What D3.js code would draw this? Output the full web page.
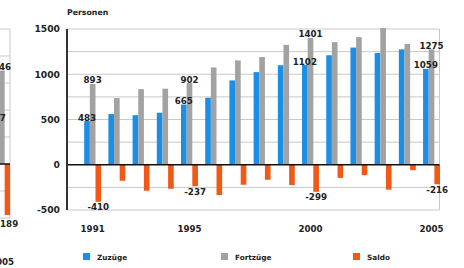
<!DOCTYPE html>
<html><head><meta charset="utf-8">
<script src="https://cdn.jsdelivr.net/npm/d3@7"></script>
<style>
html,body{margin:0;padding:0;background:#fff;}
svg{display:block;}
text{font-family:"DejaVu Sans",sans-serif;font-weight:bold;fill:#222;}
</style></head>
<body><svg id="c" width="464" height="268"></svg>
<script>
// ---- data (main chart) ----
const years = ["1991","1992","1993","1994","1995","1996","1997","1998","1999","2000","2001","2002","2003","2004","2005"];
const zuzuege   = [483, 560, 548, 575, 665, 740, 932, 1024, 1100, 1102, 1210, 1295, 1235, 1275, 1059];
const fortzuege = [893, 737, 835, 840, 902, 1075, 1153, 1190, 1325, 1401, 1355, 1410, 1510, 1335, 1275];
const saldo     = [-410, -177, -287, -265, -237, -335, -221, -166, -225, -299, -145, -115, -275, -60, -216];
const labelledYears = ["1991","1995","2000","2005"];
const yTicks = [-500, 0, 500, 1000, 1500];
const seriesNames = ["Zuzüge","Fortzüge","Saldo"];
const unitLabel = "Personen";
// ---- data (neighbouring chart, cut at left edge) ----
const leftYears = ["2005"];
const leftZuzuege = [157];
const leftFortzuege = [346];
const leftSaldo = [-189];

const colors = ["#1b8fe6", "#a2a2a2", "#f05a16"];
const svg = d3.select("#c");

// ===== left partial chart =====
(function(){
  const L = 0, R = 10;
  const y = d3.scaleLinear().domain([-200, 500]).range([218, 29]);
  const x0 = d3.scaleBand().domain(leftYears).range([-6, 10]).padding(0);
  const x1 = d3.scaleBand().domain([0,1,2]).range([0, x0.bandwidth()]);
  const g = svg.append("g");
  d3.range(-100, 501, 100).filter(v => v !== 0).forEach(v => {
    g.append("line").attr("x1", L).attr("x2", R).attr("y1", y(v)).attr("y2", y(v))
      .attr("stroke", "#c8c8c8").attr("stroke-width", 1);
  });
  g.append("line").attr("x1", L).attr("x2", R).attr("y1", y(-200)).attr("y2", y(-200)).attr("stroke", "#c8c8c8");
  g.append("line").attr("x1", R).attr("x2", R).attr("y1", y(500)).attr("y2", y(-200)).attr("stroke", "#c8c8c8");
  const series = [leftZuzuege, leftFortzuege, leftSaldo];
  series.forEach((arr, si) => {
    g.selectAll(null).data(leftYears).enter().append("rect")
      .attr("x", d => x0(d) + x1(si))
      .attr("width", x1.bandwidth())
      .attr("y", (d, i) => y(Math.max(0, arr[i])))
      .attr("height", (d, i) => Math.abs(y(arr[i]) - y(0)))
      .attr("fill", colors[si]);
  });
  g.append("line").attr("x1", L).attr("x2", R).attr("y1", y(0)).attr("y2", y(0)).attr("stroke", "#111").attr("stroke-width", 1.5);
  series.forEach((arr, si) => {
    leftYears.forEach((yr, i) => {
      const v = arr[i];
      g.append("text").attr("x", x0(yr) + x1(si) + x1.bandwidth()/2)
        .attr("y", v >= 0 ? y(v) - 0.5 : y(v) + 12)
        .attr("text-anchor", "middle").attr("font-size", 8.7).text(String(v));
    });
  });
  leftYears.forEach(yr => {
    g.append("text").attr("x", x0(yr) + x0.bandwidth()/2).attr("y", 265)
      .attr("text-anchor", "middle").attr("font-size", 8.7).text(yr);
  });
})();

// ===== main chart =====
const plotL = 67, plotR = 439.5, plotT = 29, plotB = 210;
const y = d3.scaleLinear().domain([-500, 1500]).range([plotB, plotT]);
const x0 = d3.scaleBand().domain(years).range([plotL, 440])
  .paddingInner(0.3).paddingOuter(0.355).align(1);
const x1 = d3.scaleBand().domain([0,1,2]).range([0, x0.bandwidth()]);

const grid = svg.append("g");
d3.range(-250, 1501, 250).filter(v => v !== 0).forEach(v => {
  grid.append("line").attr("x1", plotL).attr("x2", plotR).attr("y1", y(v)).attr("y2", y(v))
    .attr("stroke", "#c8c8c8").attr("stroke-width", 1);
});
grid.append("line").attr("x1", plotL).attr("x2", plotR).attr("y1", y(-500)).attr("y2", y(-500)).attr("stroke", "#c8c8c8");
grid.append("line").attr("x1", plotR).attr("x2", plotR).attr("y1", y(1500)).attr("y2", y(-500)).attr("stroke", "#c8c8c8");

const allSeries = [zuzuege, fortzuege, saldo];
allSeries.forEach((arr, si) => {
  svg.append("g").selectAll("rect").data(years).enter().append("rect")
    .attr("x", d => x0(d) + x1(si))
    .attr("width", x1.bandwidth())
    .attr("y", (d, i) => y(Math.max(0, arr[i])))
    .attr("height", (d, i) => Math.abs(y(arr[i]) - y(0)))
    .attr("fill", colors[si]);
});

// zero line and left axis
svg.append("line").attr("x1", plotL).attr("x2", plotR).attr("y1", y(0)).attr("y2", y(0))
  .attr("stroke", "#111").attr("stroke-width", 1.6);
svg.append("line").attr("x1", plotL).attr("x2", plotL).attr("y1", y(1500)).attr("y2", y(-500))
  .attr("stroke", "#333").attr("stroke-width", 2);

// y axis labels
const yAxis = d3.axisLeft(y).tickValues(yTicks).tickFormat(d => String(d)).tickSize(0).tickPadding(7);
const ya = svg.append("g").attr("transform", `translate(${plotL},0)`).call(yAxis);
ya.select(".domain").remove();
ya.selectAll("text").attr("font-size", 9.2).attr("font-family", "DejaVu Sans").attr("font-weight", "bold").attr("fill", "#222");

svg.append("text").attr("x", plotL).attr("y", 15).attr("font-size", 7.8).text(unitLabel);

// x labels
const xAxis = d3.axisBottom(x0).tickValues(labelledYears).tickSize(0).tickPadding(0);
const xa = svg.append("g").attr("transform", `translate(0,226)`).call(xAxis);
xa.select(".domain").remove();
xa.selectAll("text").attr("font-size", 8.7).attr("font-family", "DejaVu Sans").attr("font-weight", "bold").attr("fill", "#222");

// data labels
allSeries.forEach((arr, si) => {
  years.forEach((yr, i) => {
    if (!labelledYears.includes(yr)) return;
    const v = arr[i];
    svg.append("text")
      .attr("x", x0(yr) + x1(si) + x1.bandwidth()/2)
      .attr("y", v >= 0 ? y(v) - 0.5 : y(v) + 8.5)
      .attr("text-anchor", "middle").attr("font-size", 8.7).text(String(v));
  });
});

// legend
const legX = [83, 221, 353];
seriesNames.forEach((name, i) => {
  const g = svg.append("g").attr("transform", `translate(${legX[i]},253)`);
  g.append("rect").attr("width", 7).attr("height", 7).attr("fill", colors[i]);
  g.append("text").attr("x", 14).attr("y", 6.5).attr("font-size", 7.3).attr("fill", "#333").text(name);
});
</script></body></html>
